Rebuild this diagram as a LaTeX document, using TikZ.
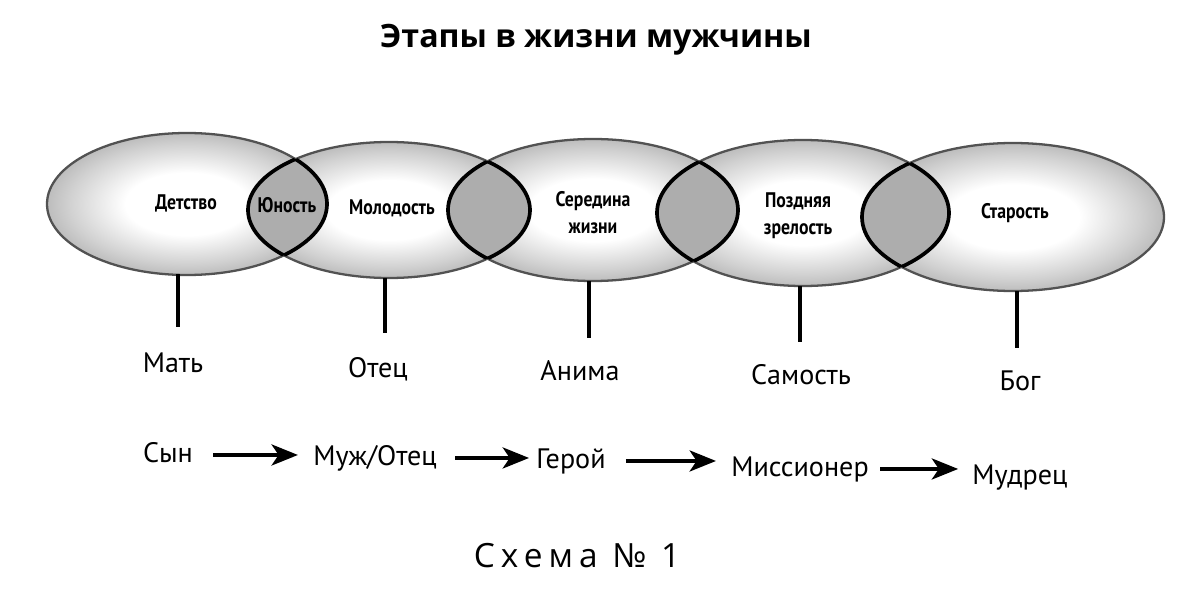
\documentclass[tikz,border=0pt]{standalone}
\usepackage{fontspec}
\setmainfont{PT Sans}
\newfontfamily\titlefont{Open Sans}
\newfontfamily\capfont[LetterSpace=18]{Open Sans}
\newfontfamily\condfont[FakeStretch=0.84]{PT Sans}
\usetikzlibrary{arrows.meta}
\pgfdeclareradialshading{ellshade}{\pgfpoint{0bp}{0bp}}{color(0bp)=(white); color(11bp)=(white); color(21bp)=(black!18); color(25bp)=(black!26); color(50bp)=(black!26)}
\begin{document}
\begin{tikzpicture}[x=0.02cm,y=-0.02cm,
  ell/.style={draw=black!68, line width=1.3pt},
  lens/.style={draw=black, line width=2.1pt},
  lensfill/.style={fill=black!32},
  inlabel/.style={font=\condfont\bfseries\fontsize{12}{15.3}\selectfont, align=center, inner sep=0pt},
  figlabel/.style={font=\fontsize{16}{18}\selectfont, inner sep=0pt, anchor=base, text height=12pt, text depth=4pt},
  flow/.style={-{Stealth[length=15pt,width=12pt,inset=4pt]}, line width=2pt},
  stem/.style={line width=1.8pt}]
\useasboundingbox (0,0) rectangle (1200,591);
\fill[white] (0,0) rectangle (1200,591);

\def\EA{(187,204) ellipse [x radius=140, y radius=71]}
\def\EB{(389,210) ellipse [x radius=141, y radius=68]}
\def\EC{(593,210) ellipse [x radius=145, y radius=71]}
\def\ED{(803,213) ellipse [x radius=146, y radius=73]}
\def\EE{(1013,217) ellipse [x radius=151, y radius=74]}

% shaded ellipses
\shade[shading=ellshade] \EA;
\shade[shading=ellshade] \EB;
\shade[shading=ellshade] \EC;
\shade[shading=ellshade] \ED;
\shade[shading=ellshade] \EE;

% lens fills
\begin{scope}\clip \EA; \fill[lensfill] \EB; \end{scope}
\begin{scope}\clip \EB; \fill[lensfill] \EC; \end{scope}
\begin{scope}\clip \EC; \fill[lensfill] \ED; \end{scope}
\begin{scope}\clip \ED; \fill[lensfill] \EE; \end{scope}

% outlines
\draw[ell] \EA; \draw[ell] \EB; \draw[ell] \EC; \draw[ell] \ED; \draw[ell] \EE;

% lens outlines
\begin{scope}\clip \EA; \draw[lens] \EB; \end{scope}
\begin{scope}\clip \EB; \draw[lens] \EA; \draw[lens] \EC; \end{scope}
\begin{scope}\clip \EC; \draw[lens] \EB; \draw[lens] \ED; \end{scope}
\begin{scope}\clip \ED; \draw[lens] \EC; \draw[lens] \EE; \end{scope}
\begin{scope}\clip \EE; \draw[lens] \ED; \end{scope}

% title
\node[font=\titlefont\bfseries\fontsize{18.3}{22}\selectfont, anchor=base, inner sep=0pt] (title) at (596,48) {Этапы в жизни мужчины};

% labels inside ellipses
\node[inlabel] (t1) at (186,203) {Детство};
\node[inlabel] (t12) at (287,205) {Юность};
\node[inlabel] (t2) at (392,208) {Молодость};
\node[inlabel] (t3) at (593,213) {Середина\\жизни};
\node[inlabel] (t4) at (798,216) {Поздняя\\зрелость};
\node[inlabel] (t5) at (1015,213) {Старость};

% stems
\coordinate (s1a) at (178,274); \coordinate (s1b) at (178,327);
\coordinate (s2a) at (385,278); \coordinate (s2b) at (385,333);
\coordinate (s3a) at (589,281); \coordinate (s3b) at (589,338);
\coordinate (s4a) at (800,286); \coordinate (s4b) at (800,342);
\coordinate (s5a) at (1017,291); \coordinate (s5b) at (1017,348);
\draw[stem] (s1a) -- (s1b);
\draw[stem] (s2a) -- (s2b);
\draw[stem] (s3a) -- (s3b);
\draw[stem] (s4a) -- (s4b);
\draw[stem] (s5a) -- (s5b);

% archetype labels
\node[figlabel] (m1) at (173,372) {Мать};
\node[figlabel] (m2) at (378,377) {Отец};
\node[figlabel] (m3) at (580,380) {Анима};
\node[figlabel] (m4) at (801,384) {Самость};
\node[figlabel] (m5) at (1020,390) {Бог};

% role chain
\node[figlabel] (r1) at (168,462) {Сын};
\node[figlabel] (r2) at (375,465) {Муж/Отец};
\node[figlabel] (r3) at (571,468) {Герой};
\node[figlabel] (r4) at (800,476) {Миссионер};
\node[figlabel] (r5) at (1020,484) {Мудрец};
\draw[flow, shorten <=20*0.02cm, shorten >=15*0.02cm] (r1.east) -- (r1.east -| r2.west);
\draw[flow, shorten <=18*0.02cm, shorten >=7*0.02cm] (r2.east) -- (r2.east -| r3.west);
\draw[flow, shorten <=20*0.02cm, shorten >=15*0.02cm] (r3.east) -- (r3.east -| r4.west);
\draw[flow, shorten <=11*0.02cm, shorten >=14*0.02cm] (r4.east) -- (r4.east -| r5.west);

% caption
\node[font=\capfont\fontsize{19}{22}\selectfont, anchor=base, inner sep=0pt] (cap) at (577,567) {Схема № 1};
\end{tikzpicture}
\end{document}
